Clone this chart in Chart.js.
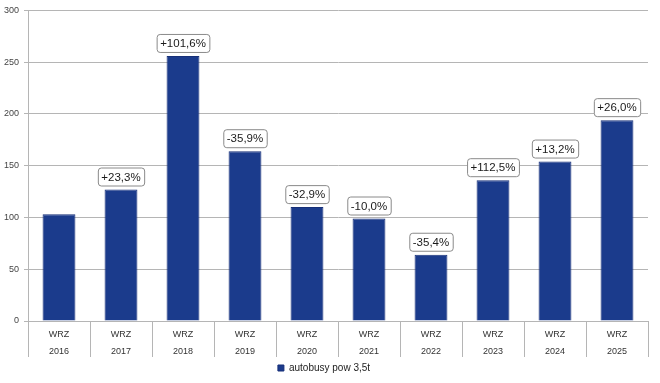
<!DOCTYPE html>
<html>
<head>
<meta charset="utf-8">
<script src="https://cdn.jsdelivr.net/npm/chart.js@4"></script>
<style>
  html, body { margin: 0; padding: 0; background: #fff; }
  #wrap { width: 660px; height: 383px; position: relative; }
</style>
</head>
<body>
<div id="wrap"><canvas id="c" width="660" height="383"></canvas></div>
<script>
const prefixes = ['WRZ','WRZ','WRZ','WRZ','WRZ','WRZ','WRZ','WRZ','WRZ','WRZ'];
const years = ['2016','2017','2018','2019','2020','2021','2022','2023','2024','2025'];
const values = [103, 127, 256, 164, 110, 99, 64, 136, 154, 194];
const changeLabels = ['', '+23,3%', '+101,6%', '-35,9%', '-32,9%', '-10,0%', '-35,4%', '+112,5%', '+13,2%', '+26,0%'];
const seriesName = 'autobusy pow 3,5t';
const yTicks = [0, 50, 100, 150, 200, 250, 300];

const FONT = '"Liberation Sans", Arial, sans-serif';

const boxLabels = {
  id: 'boxLabels',
  afterDatasetsDraw(chart) {
    const ctx = chart.ctx;
    const meta = chart.getDatasetMeta(0);
    ctx.save();
    ctx.font = '11.5px ' + FONT;
    ctx.textAlign = 'center';
    ctx.textBaseline = 'middle';
    meta.data.forEach((bar, i) => {
      const txt = changeLabels[i];
      if (!txt) return;
      const w = ctx.measureText(txt).width + 7;
      const h = 18;
      const x = bar.x - w / 2;
      const y = bar.y - 4 - h;
      ctx.beginPath();
      ctx.roundRect(x + 0.5, y + 0.5, w, h, 3);
      ctx.fillStyle = '#ffffff';
      ctx.fill();
      ctx.strokeStyle = '#8a8a8a';
      ctx.lineWidth = 1;
      ctx.stroke();
      ctx.fillStyle = '#1a1a1a';
      ctx.fillText(txt, bar.x, y + h / 2 + 1);
    });
    ctx.restore();
  }
};

new Chart(document.getElementById('c'), {
  type: 'bar',
  data: {
    labels: years.map((y, i) => [prefixes[i], y]),
    datasets: [{
      label: seriesName,
      data: values,
      backgroundColor: '#1b3b8c',
      borderColor: '#162f78',
      borderWidth: 1,
      barPercentage: 0.53,
      categoryPercentage: 1.0
    }]
  },
  options: {
    responsive: false,
    animation: false,
    devicePixelRatio: 1,
    layout: { padding: { top: 10, right: 12, left: 0, bottom: 0 } },
    plugins: {
      legend: {
        display: true,
        position: 'bottom',
        labels: {
          boxWidth: 6,
          boxHeight: 6,
          padding: 6,
          color: '#222',
          font: { size: 10, family: FONT }
        }
      },
      tooltip: { enabled: false }
    },
    scales: {
      x: {
        grid: {
          display: true,
          offset: true,
          drawOnChartArea: false,
          drawTicks: true,
          tickLength: 36,
          color: '#b5b5b5'
        },
        border: { display: true, color: '#b5b5b5' },
        ticks: {
          padding: -31,
          color: '#333',
          font: { size: 9, family: FONT, lineHeight: 1.9 },
          maxRotation: 0,
          autoSkip: false
        },
        afterFit(scale) { scale.height = 36; }
      },
      y: {
        min: 0,
        max: 300,
        afterBuildTicks(scale) { scale.ticks = yTicks.map(v => ({ value: v })); },
        grid: {
          color: '#b5b5b5',
          drawTicks: true,
          tickLength: 4
        },
        border: { display: true, color: '#b5b5b5' },
        ticks: {
          padding: 5,
          color: '#444',
          font: { size: 9, family: FONT }
        },
        afterFit(scale) { scale.width = 28; }
      }
    }
  },
  plugins: [boxLabels]
});
</script>
</body>
</html>
